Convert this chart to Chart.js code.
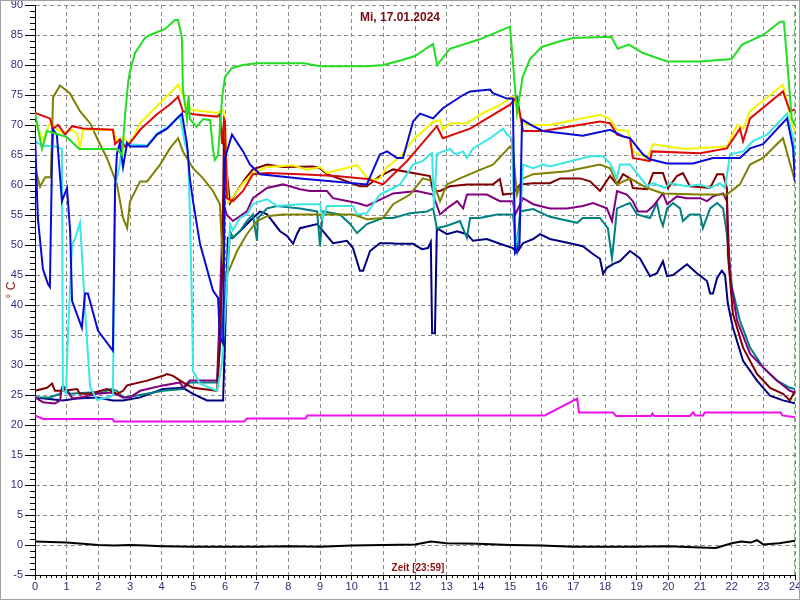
<!DOCTYPE html>
<html><head><meta charset="utf-8">
<script src="https://cdn.jsdelivr.net/npm/chart.js@4.4.0/dist/chart.umd.min.js"></script>
<style>
html,body{margin:0;padding:0;background:#fff;}
#wrap{position:relative;width:800px;height:600px;box-sizing:border-box;border:1px solid #a0a0a0;overflow:hidden;}
canvas{display:block;}
#title{position:absolute;left:0;width:798px;top:9px;text-align:center;font:bold 12px "Liberation Sans",Arial,sans-serif;color:#7a0a14;}
#zeit{position:absolute;left:367px;width:100px;top:561px;text-align:center;font:bold 10px "Liberation Sans",Arial,sans-serif;color:#8b1010;}
</style></head>
<body>
<div id="wrap"><canvas id="c" width="798" height="598"></canvas>
<div id="title">Mi, 17.01.2024</div>
<div id="zeit">Zeit [23:59]</div>
</div>
<script>
// Hours 0..24, temperatures in °C
const xTicksHours = [0,1,2,3,4,5,6,7,8,9,10,11,12,13,14,15,16,17,18,19,20,21,22,23,24];
const yTicks = [-5,0,5,10,15,20,25,30,35,40,45,50,55,60,65,70,75,80,85,90];
const dateTitle = "Mi, 17.01.2024";

const green = [[0,72],[0.22,66],[0.38,69],[0.7,68.5],[1.0,68],[1.4,66],[2.59,66],[2.75,65],[2.85,72],[2.94,77],[3.0,79],[3.16,82],[3.47,84.5],[3.63,85],[4.11,86],[4.42,87.5],[4.52,87.5],[4.64,84.5],[4.67,76],[4.8,71],[4.85,75],[4.89,71],[5.1,69.7],[5.31,71],[5.53,70.8],[5.62,66],[5.68,64.2],[5.78,65],[5.91,74.7],[6.0,78],[6.22,79.5],[6.57,80],[7.0,80.3],[8.5,80.3],[9.0,79.8],[10.5,79.8],[11.0,80],[11.57,80.8],[12.0,81.5],[12.57,83.5],[12.7,80],[13.1,82.7],[14.0,84.2],[15.0,86.4],[15.1,80],[15.22,72],[15.4,78],[15.63,81],[16.0,83],[16.6,84],[17.0,84.5],[18.2,84.7],[18.4,82.7],[18.75,83.4],[19.2,82],[19.96,80.6],[21.0,80.6],[22.0,81],[22.33,83.4],[23.0,85],[23.53,87.2],[23.65,87.2],[23.9,71],[24,70]];

const yellow = [[0,70.5],[0.25,67.5],[0.47,70.3],[0.63,69.5],[0.88,68.7],[1.17,69.2],[1.33,68.5],[1.42,66.3],[1.52,69.2],[2.46,69.2],[2.59,67.2],[2.78,68],[2.94,67],[3.1,67.8],[3.32,70.3],[3.73,72.5],[4.26,75.3],[4.52,76.7],[4.64,75.3],[4.8,73],[4.99,72.5],[5.75,72],[5.94,72.5],[6.0,70.8],[6.09,57],[6.25,58],[6.57,60.3],[6.88,62],[7.33,63],[8.15,63.3],[8.6,62.5],[9.0,63],[9.22,62],[10.17,63.3],[10.48,61.3],[10.7,60.8],[10.89,61.1],[11.12,63],[11.53,64.7],[11.94,67.5],[12.57,70.5],[12.79,70.8],[12.88,69.2],[13.11,70.3],[13.64,70.3],[14.15,72],[14.68,73.3],[15.0,74.5],[15.09,74.7],[15.25,72.5],[15.38,70.3],[15.6,70],[16.26,70],[17.84,71.7],[18.16,71],[18.38,69.2],[18.73,69],[18.88,65.6],[19.33,64.5],[19.52,66.8],[20.5,66],[21.85,66.4],[22.17,70],[22.36,69.4],[22.58,72.3],[23.62,76.7],[23.94,69.5],[24,69]];

const red = [[0,72],[0.47,71.1],[0.57,69.4],[0.73,70],[0.95,68.4],[1.17,69.8],[1.52,69.4],[2.46,69.2],[2.53,66.8],[2.68,67.6],[2.84,66.4],[3.0,67],[3.32,69.2],[3.85,71.8],[4.26,73.4],[4.52,74.7],[4.67,72.3],[4.99,71.8],[5.75,71.4],[5.84,71.8],[5.91,66.8],[5.97,71],[6.0,70.6],[6.06,57.8],[6.25,57.3],[6.57,59],[6.88,61.8],[7.33,62],[8.37,61.8],[9.5,61.5],[10.5,61],[10.99,60.1],[11.75,64],[12.69,69.8],[12.88,67.8],[13.74,69.4],[15.0,73.4],[15.22,74.7],[15.41,69],[16.04,69],[17.84,70.6],[18.16,70.3],[18.38,68.4],[18.79,67.8],[18.88,64.5],[19.42,64],[19.48,65.6],[21.0,65.3],[21.85,66.1],[22.26,69.4],[22.36,67.3],[22.58,71.1],[23.62,75.6],[23.84,72.3],[24,72.6]];

const blue = [[0,68.4],[0.09,54.5],[0.25,46],[0.41,43.5],[0.47,43],[0.54,65],[0.57,69.2],[0.69,68.4],[0.85,57.3],[1.01,59.5],[1.11,52.3],[1.17,40.7],[1.48,36.2],[1.58,41.9],[1.67,41.9],[1.99,35.7],[2.46,32.4],[2.53,60],[2.59,65.3],[2.68,67],[2.78,63],[2.91,67],[3.0,66.4],[3.54,66.4],[3.85,68.4],[4.17,69.4],[4.48,71.1],[4.64,71.9],[4.8,66.8],[4.89,61.1],[4.99,57.3],[5.21,50.2],[5.62,42.4],[5.78,41.2],[5.84,34.6],[5.94,33.6],[6.0,64.5],[6.22,68.4],[6.57,65.6],[6.79,63.4],[7.11,61.8],[8.37,61.1],[10.48,60.1],[10.89,65.1],[11.12,65.6],[11.43,64.5],[11.62,64.5],[11.94,70.6],[12.16,71.9],[12.57,71.1],[12.88,72.8],[13.52,75],[13.74,75.6],[14.37,75.9],[14.46,75.3],[14.91,74.4],[15.09,74.4],[15.16,48.7],[15.3,50],[15.38,70.9],[15.73,69.8],[16.04,69],[17.3,68.2],[18.16,69.2],[18.57,68.1],[18.79,67.8],[19.2,65.1],[19.42,64.3],[19.96,63.6],[20.78,63.6],[21.41,64.5],[22.26,64.5],[22.58,66.1],[22.99,66.8],[23.75,71.1],[23.94,66.1],[24,60.6]];

const cyan = [[0,67.3],[0.25,66.5],[0.6,66.5],[0.85,66],[0.88,25.8],[0.98,25.2],[1.04,35],[1.17,50],[1.26,51],[1.42,53.7],[1.48,48.7],[1.58,39.2],[1.74,26.3],[1.96,24.2],[2.37,24.7],[2.46,25],[2.53,60],[2.68,63.4],[2.75,66.8],[3.0,66.8],[3.54,66.6],[3.85,68.6],[4.17,69.6],[4.58,71.4],[4.74,66.8],[4.83,65.6],[4.89,55.6],[4.96,39],[4.99,29],[5.21,26.9],[5.62,26],[5.75,25.7],[5.9,30],[6.06,43.5],[6.16,53.5],[6.25,52.5],[6.47,54.5],[6.69,55.1],[6.88,56.8],[7.11,57.3],[7.33,57.6],[7.64,56.5],[8.37,56.8],[9.0,56.8],[9.09,54.5],[9.22,56.5],[10.04,56.5],[10.17,55.1],[10.48,55.3],[10.89,58.4],[11.12,59],[11.53,60.1],[11.94,63.4],[12.25,64],[12.47,65.1],[12.54,65.3],[12.6,56],[12.69,65.1],[12.88,65.6],[13.11,66],[13.26,65.1],[13.52,65.6],[13.64,64.5],[13.83,66.1],[14.37,67.8],[14.78,69.4],[14.91,68.4],[15.06,67.8],[15.16,50],[15.3,52],[15.41,63.4],[15.73,62.8],[16.04,63.4],[16.26,63.1],[17.53,64.8],[17.94,64.8],[18.16,63.6],[18.38,61.1],[18.47,63.4],[18.79,63.4],[18.88,62.8],[19.33,59.8],[19.52,60.3],[19.89,59.5],[20.05,60.3],[20.59,59.8],[21.0,60.1],[21.32,59.5],[21.63,60.3],[21.79,59.5],[21.95,65.1],[22.36,65.6],[22.67,67.3],[23.12,68.4],[23.75,71.9],[23.94,67.8],[24,65]];

const olive = [[0,63],[0.16,59.7],[0.32,61.3],[0.5,61.3],[0.57,74.6],[0.79,76.6],[1.1,75.3],[1.42,72.3],[1.74,70.3],[1.96,67.8],[2.27,64.5],[2.59,60.1],[2.78,54.5],[2.91,52.8],[3.0,57.3],[3.32,60.6],[3.54,60.6],[3.95,63.4],[4.26,66.1],[4.52,67.8],[4.67,65.6],[4.99,62.8],[5.31,61.1],[5.62,59],[5.84,56.8],[5.91,49],[6.0,44.5],[6.16,46.2],[6.38,49],[6.69,51.8],[7.01,54],[7.33,54.8],[7.83,55.1],[10.04,55.1],[10.48,54.3],[10.99,54.5],[11.31,56.8],[11.84,58.4],[12.25,61.1],[12.57,60.6],[12.79,57.3],[13.01,60.1],[13.42,61.1],[13.96,62.3],[14.46,63.4],[15.0,66.4],[15.09,66],[15.22,58.4],[15.41,61.1],[15.73,61.8],[16.8,62.3],[17.84,63.4],[18.16,62.8],[18.38,60.1],[18.79,61.1],[19.33,59.5],[19.83,58.6],[21.0,58.4],[21.85,58.4],[22.26,60.1],[22.58,63.4],[22.99,64.5],[23.62,67.8],[23.94,61.8],[24,60.5]];

const maroon = [[0,25.7],[0.38,26.2],[0.54,26.9],[0.63,25.7],[0.88,25.7],[1.33,26],[1.42,25.2],[1.74,25.2],[2.27,26],[2.59,25.2],[2.78,25.7],[2.91,26.6],[3.54,27.4],[4.04,28.2],[4.17,28.5],[4.36,28.2],[4.67,27.1],[4.99,26.2],[5.75,25.7],[5.84,33.6],[5.91,45],[5.97,70],[6.06,62],[6.16,57],[6.32,58.5],[6.63,61],[6.88,62.6],[7.33,63.4],[7.83,63],[8.78,63.1],[9.0,62.8],[9.22,61.8],[10.26,59.8],[10.48,59.8],[10.89,61.5],[11.31,62.6],[11.94,62],[12.47,61.5],[12.57,59],[12.79,59],[13.11,59.8],[13.64,60.1],[14.46,60.1],[14.68,61],[14.78,58.4],[15.09,58.6],[15.32,60.1],[15.73,60.3],[16.26,60.3],[16.58,61.1],[17.21,61.1],[17.53,60.6],[17.84,59],[18.16,61.5],[18.38,60.1],[18.57,61.8],[18.79,61.1],[18.88,59.5],[19.33,59.3],[19.52,62],[19.83,62],[19.99,59.5],[20.27,61.5],[20.46,62],[20.68,59.8],[21.32,59.5],[21.54,61.8],[21.73,61.8],[21.85,59.5],[21.88,48.5],[22.04,38.5],[22.36,32.9],[22.8,28.5],[23.21,26.2],[23.62,25.2],[23.84,24.1],[24,25.7]];

const purple = [[0,24.6],[0.25,23.8],[0.63,23.6],[0.79,24.1],[0.85,26.2],[0.95,26],[1.2,24.4],[1.42,24.6],[1.96,25.2],[2.46,25.4],[2.78,24.6],[3.0,24.6],[3.32,25.7],[4.04,26.6],[4.58,27.1],[4.67,26.2],[4.89,27.4],[5.75,27.4],[5.84,40],[5.94,57],[6.06,55],[6.25,54],[6.69,55.6],[6.88,57.8],[7.33,59.5],[7.83,60.1],[8.37,59.3],[8.68,59],[9.22,59],[9.41,57.8],[10.17,57],[10.48,56.5],[10.8,57.3],[11.31,58.6],[12.06,59],[12.57,58.4],[12.79,55.1],[13.01,56.1],[13.33,57.3],[13.52,56.1],[13.64,58.4],[14.27,58.4],[14.68,57.3],[15.09,57.3],[15.16,55],[15.41,57.8],[15.73,56.8],[16.26,56.1],[16.8,56.1],[17.3,56.5],[17.62,57],[18.06,56.1],[18.22,54],[18.38,59],[18.69,58.4],[18.88,57.3],[19.04,55.6],[19.33,55.6],[19.52,56.5],[19.83,58.6],[19.96,56.8],[20.27,58.1],[20.59,57.8],[21.0,57.8],[21.22,57.3],[21.41,58.1],[21.73,58.6],[21.85,57.3],[21.95,44.5],[22.17,37.4],[22.58,31.9],[22.99,29.6],[23.43,27.4],[23.84,25.7],[24,25.4]];

const teal = [[0,24.6],[0.47,24.6],[0.79,25.2],[0.88,26.6],[1.11,25.2],[1.74,25.4],[2.15,25.4],[2.37,26],[2.59,25.7],[2.78,24.6],[3.22,24.9],[4.04,25.7],[4.67,26],[4.89,27.1],[5.75,27.1],[5.84,33],[6.09,46.2],[6.16,52.3],[6.25,51.2],[6.47,52.3],[6.69,54],[6.88,55.1],[7.01,50.7],[7.04,54.5],[7.33,56.1],[7.64,56.5],[8.37,56.1],[8.91,55.6],[9.0,49.8],[9.09,55.6],[9.63,55.1],[9.95,53.5],[10.17,52],[10.48,53.5],[10.99,54.5],[11.31,54.5],[11.84,55.3],[12.38,55.6],[12.57,56.1],[12.69,52.8],[13.01,53.2],[13.42,54],[13.64,51.2],[13.74,54.5],[14.05,54.5],[14.59,55.1],[15.09,55.1],[15.22,49.5],[15.32,55.6],[15.73,56],[16.26,54.7],[17.12,53.7],[17.3,54.5],[17.84,54.5],[18.09,52.8],[18.22,47.8],[18.32,52.8],[18.38,56.1],[18.69,56.8],[18.79,57],[19.01,55.1],[19.42,54.5],[19.64,57],[19.74,54.5],[19.83,53.2],[19.96,56.1],[20.15,57],[20.37,56.1],[20.46,54],[20.68,55.1],[21.0,55.1],[21.09,52.8],[21.32,56.1],[21.54,57],[21.73,56.1],[21.85,51.8],[22.01,42.9],[22.26,37.4],[22.58,32.9],[22.99,29.6],[23.43,27.4],[23.84,26.2],[24,26]];

const navy = [[0,24.6],[0.88,24.1],[1.33,24.4],[1.96,24.6],[2.46,24.1],[2.78,24.1],[3.32,24.6],[4.04,26],[4.67,26.2],[4.99,25.2],[5.43,24.1],[5.94,24.1],[6.06,45],[6.09,51.2],[6.25,51.2],[6.47,52.3],[6.88,54.5],[7.11,55.6],[7.33,55.1],[7.74,52.3],[7.96,51.5],[8.15,50.2],[8.27,51.8],[8.37,52.8],[8.91,53.5],[9.41,50.3],[9.85,50.7],[10.04,49.5],[10.26,45.7],[10.36,45.7],[10.58,49],[10.89,50.3],[11.21,50.3],[11.43,50.2],[11.94,50.2],[12.22,49.3],[12.41,49.5],[12.5,50.5],[12.54,35.3],[12.63,35.3],[12.69,52.8],[13.01,51.8],[13.33,52.3],[13.64,51.8],[13.83,50.7],[14.27,51],[14.68,50.2],[15.09,49.5],[15.22,48.7],[15.41,50.3],[15.73,51],[15.95,51.8],[16.26,51],[16.89,50.3],[17.3,49.8],[17.62,48.5],[17.84,47.7],[17.94,45.2],[18.06,46.2],[18.25,46.8],[18.47,47.3],[18.79,49],[19.1,47.8],[19.42,44.8],[19.64,45.3],[19.83,47.3],[19.96,44.8],[20.15,45],[20.59,46.8],[20.9,45.3],[21.22,44],[21.32,41.9],[21.41,41.9],[21.54,44.5],[21.69,45.7],[21.79,45],[21.88,40.2],[22.04,36.2],[22.36,30.7],[22.8,27.4],[23.21,24.9],[23.62,24.1],[24,23.6]];

const magenta = [[0,21.6],[0.25,21],[2.45,21],[2.5,20.6],[6.6,20.6],[6.7,21.1],[8.55,21.1],[8.6,21.6],[16.1,21.6],[17.12,24.4],[17.18,22.1],[18.25,22.1],[18.35,21.5],[19.45,21.5],[19.5,21.9],[19.55,21.5],[20.68,21.5],[20.78,22.1],[20.85,21.6],[21.1,21.6],[21.15,22.1],[23.55,22.1],[23.6,21.6],[24,21.3]];

const black = [[0,0.6],[0.5,0.5],[1.0,0.4],[1.5,0.2],[2.0,0],[2.5,-0.1],[3.0,0],[3.5,-0.1],[4.0,-0.2],[5.0,-0.3],[6.0,-0.3],[7.0,-0.3],[8.0,-0.2],[9.0,-0.3],[10.0,-0.1],[11.0,0],[12.0,0.1],[12.5,0.6],[13.0,0.3],[14.0,0.2],[15.0,0],[16.0,-0.1],[17.0,-0.3],[18.0,-0.3],[19.0,-0.3],[20.0,-0.2],[21.0,-0.4],[21.5,-0.5],[22.0,0.3],[22.3,0.6],[22.6,0.4],[22.8,0.8],[23.0,0.1],[23.5,0.3],[24,0.7]];

const nowMarker = [[24,-5],[24,90]];

const seriesList = [
  {data: black, color:'#000000'},
  {data: magenta, color:'#ee10ee'},
  {data: green, color:'#22dd22'},
  {data: blue, color:'#0a0ad8'},
  {data: red, color:'#dd0a0a'},
  {data: yellow, color:'#f4f400'},
  {data: cyan, color:'#3ae6e6'},
  {data: olive, color:'#808000'},
  {data: maroon, color:'#800000'},
  {data: purple, color:'#800080'},
  {data: teal, color:'#008080'},
  {data: navy, color:'#000080'}
];

const toXY = arr => arr.map(p => ({x:p[0], y:p[1]}));

const datasets = seriesList.map(s => ({
  data: toXY(s.data), borderColor: s.color, borderWidth: 2,
  pointRadius: 0, tension: 0, fill: false
}));
datasets.push({data: toXY(nowMarker), borderColor:'#008000', borderWidth:1, borderDash:[6,3], pointRadius:0});

const minorTicks = {
  id:'minorTicks',
  afterDraw(chart){
    const {ctx, scales, chartArea:a} = chart;
    const x = scales.x, y = scales.y;
    ctx.save(); ctx.strokeStyle='#000'; ctx.lineWidth=1; ctx.setLineDash([]);
    ctx.beginPath();
    for (let v = yTicks[0]; v <= yTicks[yTicks.length-1]; v++) {
      if (v % 5 === 0) continue;
      const py = Math.round(y.getPixelForValue(v)) + 0.5;
      ctx.moveTo(a.left-5, py); ctx.lineTo(a.left, py);
    }
    for (let i = 0; i <= 24*6; i++) {
      if (i % 6 === 0) continue;
      const px = Math.round(x.getPixelForValue(i/6)) + 0.5;
      ctx.moveTo(px, a.bottom); ctx.lineTo(px, a.bottom+3);
    }
    ctx.stroke(); ctx.restore();
  }
};

const labelColor = '#2e2e78';
const tickFont = {family:'"Liberation Sans", Arial, sans-serif', size:11};

new Chart(document.getElementById('c'), {
  type:'line',
  data:{datasets},
  options:{
    responsive:false, animation:false,
    layout:{padding:{top:4, right:4, left:0, bottom:0}},
    plugins:{legend:{display:false}, tooltip:{enabled:false}, title:{display:false}},
    scales:{
      x:{type:'linear', min:0, max:24,
        afterBuildTicks: s => { s.ticks = xTicksHours.map(v => ({value:v})); },
        afterFit: s => { s.height = 24; s.paddingLeft = 0; s.paddingRight = 0; },
        ticks:{color:labelColor, font:tickFont, padding:0, maxRotation:0, autoSkip:false},
        grid:{color:'#8a8a8a', lineWidth:1, tickLength:5, tickColor:'#000', tickBorderDash:[], drawOnChartArea:true},
        border:{display:true, color:'#000', width:1, dash:[4,3]}
      },
      y:{type:'linear', min:-5, max:90,
        afterBuildTicks: s => { s.ticks = yTicks.map(v => ({value:v})); },
        afterFit: s => { s.width = 34; s.paddingTop = 0; s.paddingBottom = 0; },
        ticks:{color:labelColor, font:tickFont, padding:2, autoSkip:false},
        grid:{color:'#8a8a8a', lineWidth:1, tickLength:10, tickColor:'#000', tickBorderDash:[]},
        border:{display:true, color:'#000', width:1, dash:[4,3]},
        title:{display:true, text:'° C', color:'#8b1010', font:{family:'"Liberation Sans", Arial, sans-serif', size:12}, padding:{top:3,bottom:0}}
      }
    }
  },
  plugins:[minorTicks]
});
</script>
</body></html>
